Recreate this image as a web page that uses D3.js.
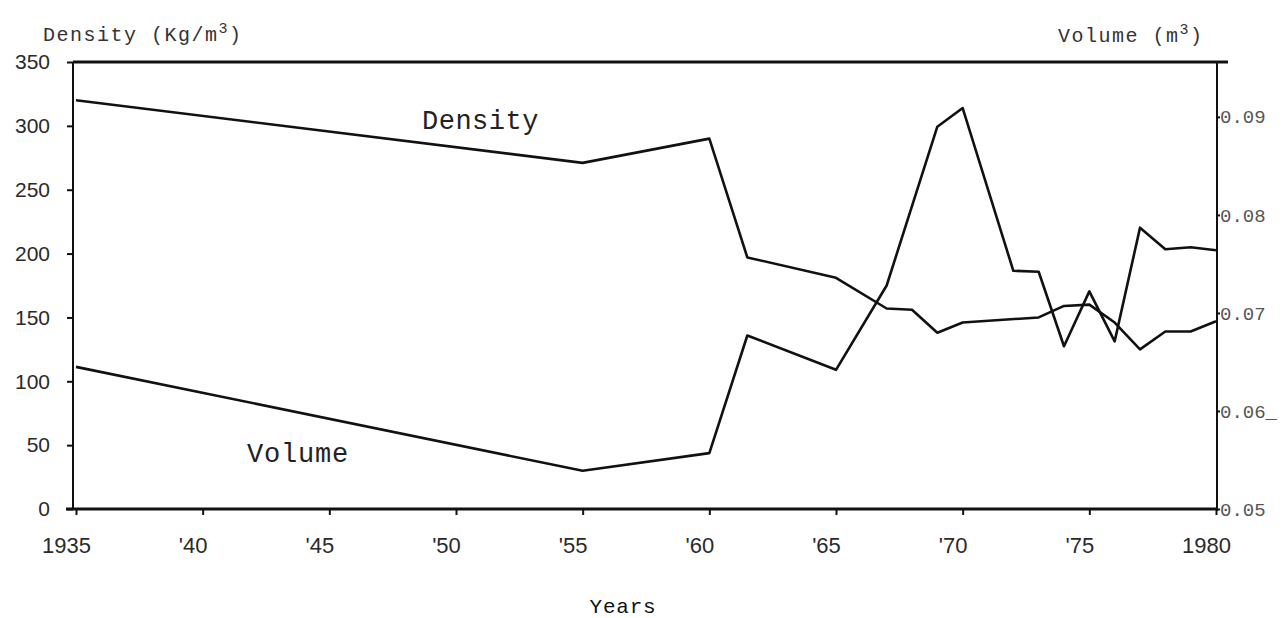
<!DOCTYPE html>
<html>
<head>
<meta charset="utf-8">
<script src="https://cdn.jsdelivr.net/npm/d3@7"></script>
<style>
  html, body { margin: 0; padding: 0; background: #fff; }
  svg { display: block; }
</style>
</head>
<body>
<svg id="chart" width="1283" height="618"></svg>
<script>
// ---- data ----
const densityYears  = [1935, 1955, 1960, 1961.5, 1965, 1967, 1968, 1969, 1970, 1973, 1974, 1975, 1976, 1977, 1978, 1979, 1980];
const densityValues = [320, 271, 290, 197, 181, 157, 156, 138, 146, 150, 159, 160, 146, 125, 139, 139, 147];

const volumeYears  = [1935, 1955, 1960, 1961.5, 1965, 1967, 1969, 1970, 1972, 1973, 1974, 1975, 1976, 1977, 1978, 1979, 1980];
const volumeValues = [0.0645, 0.0539, 0.0557, 0.0677, 0.0642, 0.0728, 0.0890, 0.0909, 0.0743, 0.0742, 0.0666, 0.0722, 0.0671, 0.0787, 0.0765, 0.0767, 0.0764];

const xTickValues = [1935, 1940, 1945, 1950, 1955, 1960, 1965, 1970, 1975, 1980];
const xTickLabels = ["1935", "'40", "'45", "'50", "'55", "'60", "'65", "'70", "'75", "1980"];
const leftTickValues = [0, 50, 100, 150, 200, 250, 300, 350];
const rightTickValues = [0.05, 0.06, 0.07, 0.08, 0.09];
const rightTickLabels = ["0.05", "0.06_", "0.07", "0.08", "0.09"];

// ---- layout ----
const plotL = 73, plotR = 1217, plotT = 62, plotB = 509;
const svg = d3.select("#chart");

const x = d3.scaleLinear().domain([1935, 1980]).range([76, 1216]);
const yL = d3.scaleLinear().domain([0, 350]).range([plotB, plotT]);
const yR = d3.scaleLinear().domain([0.05, 0.0956]).range([plotB, plotT]);

const sansFont = "'Liberation Sans', Arial, sans-serif";
const monoFont = "'Liberation Mono', 'Courier New', monospace";

// frame lines
svg.append("line").attr("x1", plotL).attr("x2", 1228).attr("y1", plotT).attr("y2", plotT)
  .attr("stroke", "#111").attr("stroke-width", 3);
svg.append("line").attr("x1", plotL).attr("x2", plotL).attr("y1", plotT).attr("y2", plotB)
  .attr("stroke", "#111").attr("stroke-width", 2);
svg.append("line").attr("x1", plotR).attr("x2", plotR).attr("y1", plotT).attr("y2", plotB + 2)
  .attr("stroke", "#111").attr("stroke-width", 2);
svg.append("line").attr("x1", 66).attr("x2", plotR).attr("y1", plotB).attr("y2", plotB)
  .attr("stroke", "#111").attr("stroke-width", 3);

// left axis
const gL = svg.append("g").attr("transform", `translate(${plotL},0)`)
  .call(d3.axisLeft(yL).tickValues(leftTickValues).tickSize(6).tickPadding(17).tickFormat(d3.format("d")));
gL.select(".domain").remove();
gL.selectAll(".tick line").attr("stroke", "#111").attr("stroke-width", 2);
gL.selectAll(".tick text").attr("font-family", sansFont).attr("font-size", 21).attr("fill", "#2a2a2a");

// right axis
const gR = svg.append("g").attr("transform", `translate(${plotR},0)`)
  .call(d3.axisRight(yR).tickValues(rightTickValues).tickSize(3).tickPadding(0)
    .tickFormat((d, i) => rightTickLabels[i]));
gR.select(".domain").remove();
gR.selectAll(".tick line").attr("stroke", "#111").attr("stroke-width", 2);
gR.selectAll(".tick text").attr("font-family", monoFont).attr("font-size", 19).attr("fill", "#555");

// bottom axis
const gB = svg.append("g").attr("transform", `translate(0,${plotB})`)
  .call(d3.axisBottom(x).tickValues(xTickValues).tickSize(6).tickPadding(22)
    .tickFormat((d, i) => xTickLabels[i]));
gB.select(".domain").remove();
gB.selectAll(".tick line").attr("stroke", "#111").attr("stroke-width", 2);
gB.selectAll(".tick text").attr("font-family", sansFont).attr("font-size", 22).attr("fill", "#2a2a2a")
  .attr("dx", -10);

// lines
const densityData = densityYears.map((yr, i) => ({ yr, v: densityValues[i] }));
const volumeData = volumeYears.map((yr, i) => ({ yr, v: volumeValues[i] }));

svg.append("path").datum(densityData)
  .attr("fill", "none").attr("stroke", "#111").attr("stroke-width", 2.6).attr("stroke-linejoin", "round")
  .attr("d", d3.line().x(d => x(d.yr)).y(d => yL(d.v)));

svg.append("path").datum(volumeData)
  .attr("fill", "none").attr("stroke", "#111").attr("stroke-width", 2.6).attr("stroke-linejoin", "round")
  .attr("d", d3.line().x(d => x(d.yr)).y(d => yR(d.v)));

// titles
const tL = svg.append("text").attr("x", 43).attr("y", 41)
  .attr("font-family", monoFont).attr("font-size", 20).attr("letter-spacing", 1.5).attr("fill", "#333");
tL.append("tspan").text("Density (Kg/m");
tL.append("tspan").attr("baseline-shift", "super").attr("font-size", 15).text("3");
tL.append("tspan").text(")");

const tR = svg.append("text").attr("x", 1058).attr("y", 42)
  .attr("font-family", monoFont).attr("font-size", 20).attr("letter-spacing", 1.5).attr("fill", "#333");
tR.append("tspan").text("Volume (m");
tR.append("tspan").attr("baseline-shift", "super").attr("font-size", 15).text("3");
tR.append("tspan").text(")");

svg.append("text").attr("x", 422).attr("y", 129).text("Density")
  .attr("font-family", monoFont).attr("font-size", 27).attr("letter-spacing", 0.5).attr("fill", "#222");
svg.append("text").attr("x", 247).attr("y", 462).text("Volume")
  .attr("font-family", monoFont).attr("font-size", 27).attr("letter-spacing", 0.8).attr("fill", "#222");

svg.append("text").attr("x", 623).attr("y", 613).attr("text-anchor", "middle").text("Years")
  .attr("font-family", monoFont).attr("font-size", 21).attr("letter-spacing", 0.8).attr("fill", "#111");
</script>
</body>
</html>
